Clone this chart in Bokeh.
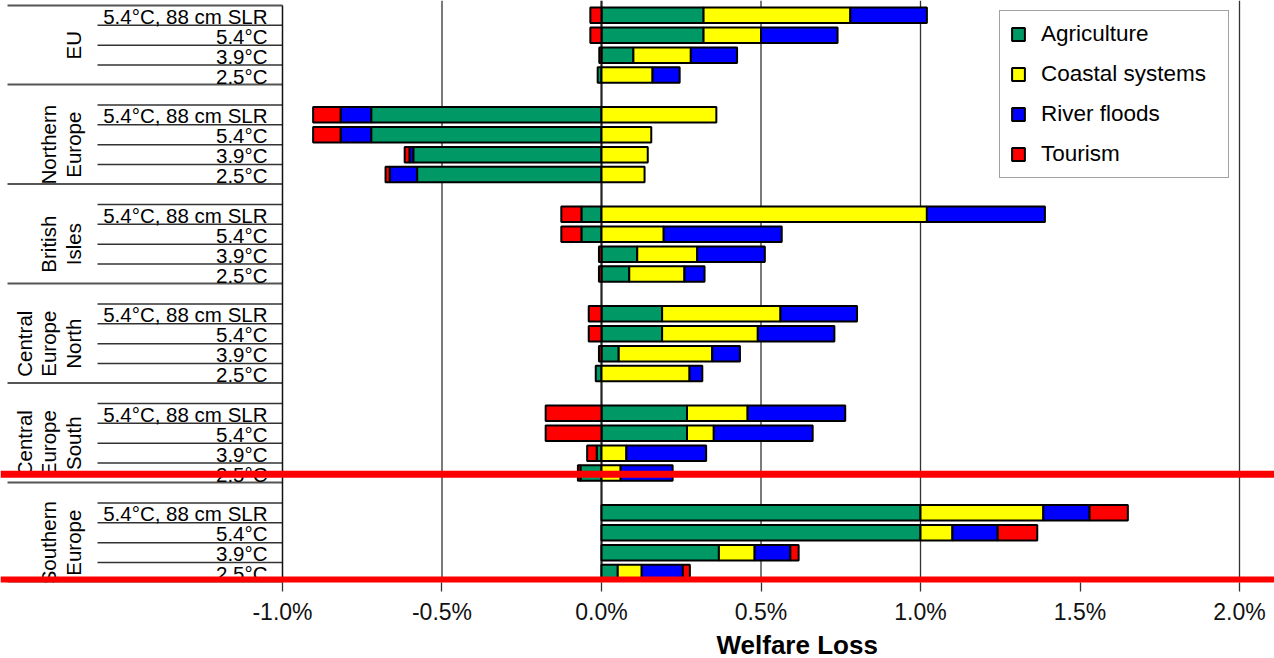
from bokeh.plotting import figure
from bokeh.models import ColumnDataSource, Span, FixedTicker, Legend, LegendItem, Range1d, Title
from bokeh.core.properties import value
from bokeh.embed import file_html
from bokeh.resources import INLINE
import math

# ---------------- data ----------------
region_lines = [["EU"], ["Northern", "Europe"], ["British", "Isles"],
                ["Central", "Europe", "North"], ["Central", "Europe", "South"],
                ["Southern", "Europe"]]
scenarios = ["5.4°C, 88 cm SLR", "5.4°C", "3.9°C", "2.5°C"]
categories = ["Agriculture", "Coastal systems", "River floods", "Tourism"]
colors = ["#009966", "#FFFF00", "#0000FF", "#FF0000"]
x_title = "Welfare Loss"

# values in % welfare loss, per region (rows: SLR, 5.4, 3.9, 2.5)
agriculture = [0.32, 0.32, 0.10, -0.012,
               -0.722, -0.722, -0.59, -0.578,
               -0.063, -0.063, 0.112, 0.087,
               0.19, 0.19, 0.054, -0.018,
               0.268, 0.268, -0.015, -0.066,
               1.0, 1.0, 0.368, 0.051]
coastal = [0.46, 0.18, 0.18, 0.16,
           0.36, 0.156, 0.145, 0.135,
           1.02, 0.195, 0.188, 0.173,
           0.371, 0.30, 0.293, 0.276,
           0.19, 0.084, 0.078, 0.06,
           0.385, 0.10, 0.112, 0.075]
river = [0.24, 0.24, 0.145, 0.085,
         -0.096, -0.096, -0.012, -0.086,
         0.37, 0.37, 0.212, 0.063,
         0.24, 0.24, 0.087, 0.04,
         0.306, 0.31, 0.25, 0.163,
         0.145, 0.142, 0.112, 0.129]
tourism = [-0.035, -0.035, -0.007, 0.0,
           -0.086, -0.086, -0.015, -0.013,
           -0.063, -0.063, -0.008, -0.008,
           -0.04, -0.04, -0.008, 0.0,
           -0.175, -0.175, -0.03, -0.008,
           0.12, 0.124, 0.026, 0.022]
series = [agriculture, coastal, river, tourism]

tick_values = [-1.0, -0.5, 0.0, 0.5, 1.0, 1.5, 2.0]
tick_labels = ["-1.0%", "-0.5%", "0.0%", "0.5%", "1.0%", "1.5%", "2.0%"]
grid_values = [-0.5, 0.5, 1.0, 2.0]
highlight_rows = [(4, 3), (5, 3)]  # (region, scenario) rows marked in red

# ---------------- layout helpers ----------------
ROWS_PER_GROUP = 5
N_ROWS = 29
X_MIN, X_MAX = -1.884, 2.1097
Y_TOP = 29.246
FONT = value("Liberation Sans")


def row_y(g, j):
    k = ROWS_PER_GROUP * g + j
    return N_ROWS - 0.5 - k


p = figure(frame_width=1274, frame_height=582, output_backend="svg",
           toolbar_location=None, x_range=Range1d(X_MIN, X_MAX),
           y_range=Range1d(0, Y_TOP), min_border=0,
           min_border_left=0, min_border_right=0, min_border_top=0,
           y_axis_location=None)
p.outline_line_color = None
p.xgrid.visible = False
p.ygrid.visible = False

# grid lines
for gv in grid_values:
    p.add_layout(Span(location=gv, dimension="height", line_color="#333333",
                      line_width=1.3, level="underlay"))
p.add_layout(Span(location=0.0, dimension="height", line_color="#222222",
                  line_width=2.2, level="underlay"))

# stacked bars
ys = []
for g in range(len(region_lines)):
    for j in range(len(scenarios)):
        ys.append(row_y(g, j))

pos = [0.0] * len(ys)
neg = [0.0] * len(ys)
renderers = []
for ci, vals in enumerate(series):
    y_l, l_l, r_l = [], [], []
    for i, v in enumerate(vals):
        if v == 0:
            continue
        if v > 0:
            l, r = pos[i], pos[i] + v
            pos[i] += v
        else:
            l, r = neg[i] + v, neg[i]
            neg[i] += v
        y_l.append(ys[i]); l_l.append(l); r_l.append(r)
    src = ColumnDataSource(dict(y=y_l, left=l_l, right=r_l))
    rr = p.hbar(y="y", left="left", right="right", height=0.78, source=src,
                fill_color=colors[ci], line_color="black", line_width=2)
    renderers.append(rr)

# label panel lines
sx0, sx1, sy0, sy1 = [], [], [], []
gx0, gx1, gy0, gy1 = [], [], [], []
for g in range(len(region_lines)):
    top = N_ROWS - ROWS_PER_GROUP * g
    for j in range(4):
        yl = top - j
        if g == 0 and j == 0:
            gx0.append(-1.862); gx1.append(-1.0); gy0.append(yl); gy1.append(yl)
        else:
            sx0.append(-1.58); sx1.append(-1.0); sy0.append(yl); sy1.append(yl)
    yb = top - 4
    gx0.append(-1.862); gx1.append(-1.0); gy0.append(yb + 0.03); gy1.append(yb + 0.03)
p.segment(x0=sx0, x1=sx1, y0=sy0, y1=sy1, line_color="#333333", line_width=1.5)
p.segment(x0=gx0, x1=gx1, y0=gy0, y1=gy1, line_color="#555555", line_width=2)
# panel right border (plot left edge)
p.segment(x0=[-1.0], x1=[-1.0], y0=[-0.5], y1=[N_ROWS], line_color="#111111",
          line_width=1.5)

# row labels
lab_y, lab_t = [], []
for g in range(len(region_lines)):
    for j, s in enumerate(scenarios):
        lab_y.append(row_y(g, j)); lab_t.append(s)
p.text(x=[-1.047] * len(lab_y), y=lab_y, text=lab_t, text_font=FONT,
       text_font_size="20.5px", text_align="right", text_baseline="middle",
       text_color="black", y_offset=1)

# region labels (rotated)
rx, ry, rt = [], [], []
for g, lines in enumerate(region_lines):
    n = len(lines)
    if g == 0:
        yc = N_ROWS - 2.0
    else:
        yc = N_ROWS - ROWS_PER_GROUP * g + 0.5 - 2.5
    for i, t in enumerate(lines):
        rx.append(-1.655 - (n - 1 - i) * 0.0775)
        ry.append(yc)
        rt.append(t)
p.text(x=rx, y=ry, text=rt, angle=math.pi / 2, text_font=FONT,
       text_font_size="20.5px", text_align="center", text_baseline="middle",
       text_color="black")

# red highlight lines
for (g, j) in highlight_rows:
    yv = row_y(g, j) - (0.06 if g == 4 else 0.38)
    p.add_layout(Span(location=yv, dimension="width", line_color="#FF0000",
                      line_width=7, level="overlay"))

# axis
ax = p.xaxis[0]
ax.ticker = FixedTicker(ticks=tick_values)
ax.major_label_overrides = {v: t for v, t in zip(tick_values, tick_labels)}
ax.axis_line_color = None
ax.major_tick_line_color = "#333333"
ax.major_tick_line_width = 1.3
ax.major_tick_out = 9
ax.major_tick_in = 0
ax.minor_tick_line_color = None
ax.major_label_text_font = "Liberation Sans"
ax.major_label_text_font_size = "23px"
ax.major_label_text_color = "#111111"
ax.major_label_standoff = 7

# x-axis title, centred like the reference (over the data region)
xt = Title(text=x_title, align="left", offset=716, standoff=0,
           text_font="Liberation Sans", text_font_size="26px",
           text_font_style="bold", text_color="black")
p.add_layout(xt, "below")

# legend
legend = Legend(items=[LegendItem(label=c, renderers=[r]) for c, r in zip(categories, renderers)],
                location=(999, 404), orientation="vertical",
                glyph_width=16, glyph_height=16, label_height=16,
                label_width=177, label_standoff=15, padding=10, spacing=14,
                label_text_font="Liberation Sans", label_text_font_size="22.5px",
                label_text_color="black", border_line_color="#444444",
                border_line_width=1.5, background_fill_color="white",
                background_fill_alpha=1.0, margin=0)
p.add_layout(legend)

open("out.html", "w").write(file_html(p, INLINE))
